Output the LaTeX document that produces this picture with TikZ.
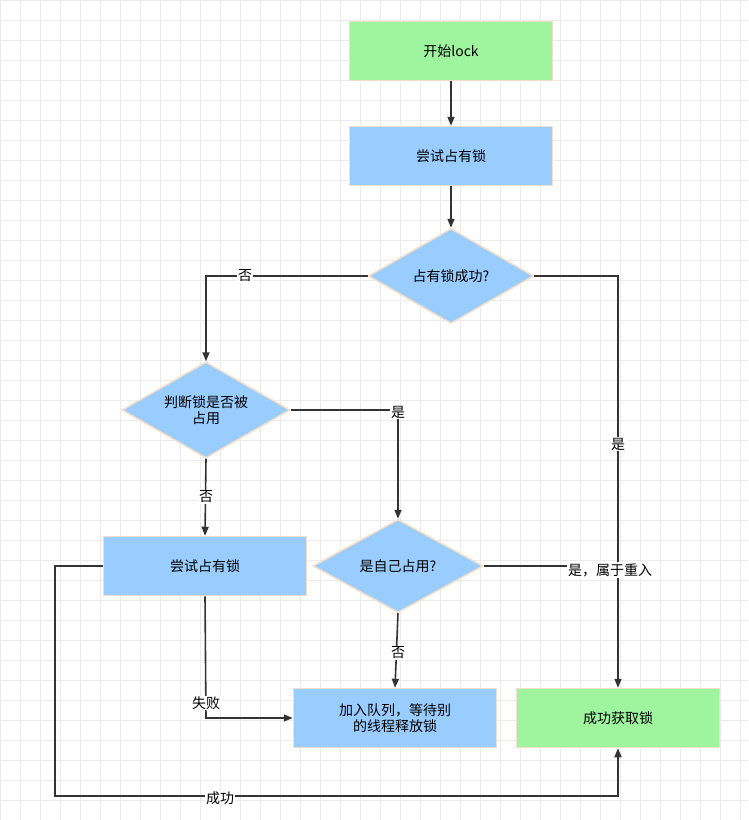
\documentclass[tikz,border=0pt]{standalone}
\usepackage{fontspec}
\setmainfont{Noto Sans CJK SC}
\usetikzlibrary{shapes.geometric,arrows.meta}
\definecolor{gfill}{HTML}{9EF59E}
\definecolor{bfill}{HTML}{99CCFF}
\definecolor{bord}{HTML}{F5DEC8}
\definecolor{ln}{HTML}{333333}
\begin{document}
\begin{tikzpicture}[x=1pt,y=-1pt,
 box/.style={draw=bord,line width=1.5pt,minimum width=203pt,minimum height=59pt,font=\fontsize{14}{16}\selectfont,align=center},
 dia/.style={diamond,draw=bord,line width=1.5pt,fill=bfill,aspect=1.75,inner sep=0pt,font=\fontsize{14}{16}\selectfont,align=center},
 ar/.style={draw=ln,line width=1.6pt,-{Triangle[length=9pt,width=7pt]}},
 pl/.style={draw=ln,line width=1.6pt},
 lb/.style={fill=white,font=\fontsize{14}{16}\selectfont,inner sep=1pt}]
\fill[white] (0,0) rectangle (748,820);
\useasboundingbox (0,0) rectangle (748,820);
\foreach \i in {0,20,...,740} \draw[black!8,line width=0.5pt] (\i,0)--(\i,820);
\foreach \j in {0,20,...,820} \draw[black!8,line width=0.5pt] (0,\j)--(748,\j);
\node[box,fill=gfill] (start) at (451,51) {开始lock};
\node[box,fill=bfill] (try1) at (451,156) {尝试占有锁};
\node[dia,minimum width=165pt,minimum height=95pt] (d1) at (451,276) {占有锁成功?};
\node[dia,minimum width=168pt,minimum height=96pt] (d2) at (206,410) {判断锁是否被\\占用};
\node[dia,minimum width=170pt,minimum height=93pt] (d3) at (398,566) {是自己占用?};
\node[box,fill=bfill] (try2) at (205,566) {尝试占有锁};
\node[box,fill=bfill] (queue) at (395,718) {加入队列，等待别\\的线程释放锁};
\node[box,fill=gfill] (ok) at (618,718) {成功获取锁};
\coordinate (c1) at (206,276);
\coordinate (c2) at (618,276);
\coordinate (c3) at (398,410);
\coordinate (c4) at (618,566);
\coordinate (c5) at (206,718);
\coordinate (c6) at (55,566);
\coordinate (c7) at (55,796);
\coordinate (c8) at (618,796);
\draw[ar] (start) -- (try1);
\draw[ar] (try1) -- (d1);
\draw[ar] (d1.west) -- (c1) -- (d2.north);
\node[lb] (l1) at (245,276) {否};
\draw[ar] (d1.east) -- (c2) -- (ok.north);
\node[lb] (l2) at (618,444) {是};
\draw[ar] (d2.east) -- (c3) -- (d3.north);
\node[lb] (l3) at (398,412) {是};
\draw[ar] (d2.south) -- (try2.north);
\node[lb] (l4) at (206,497) {否};
\draw[pl] (d3.east) -- (c4);
\node[lb] (l5) at (610,570) {是，属于重入};
\draw[ar] (d3.south) -- (queue.north);
\node[lb] (l6) at (398,653) {否};
\draw[ar] (try2.south) -- (c5) -- (queue.west);
\node[lb] (l7) at (206,703) {失败};
\draw[ar] (try2.west) -- (c6) -- (c7) -- (c8) -- (ok.south);
\node[lb] (l8) at (220,798) {成功};
\end{tikzpicture}
\end{document}
